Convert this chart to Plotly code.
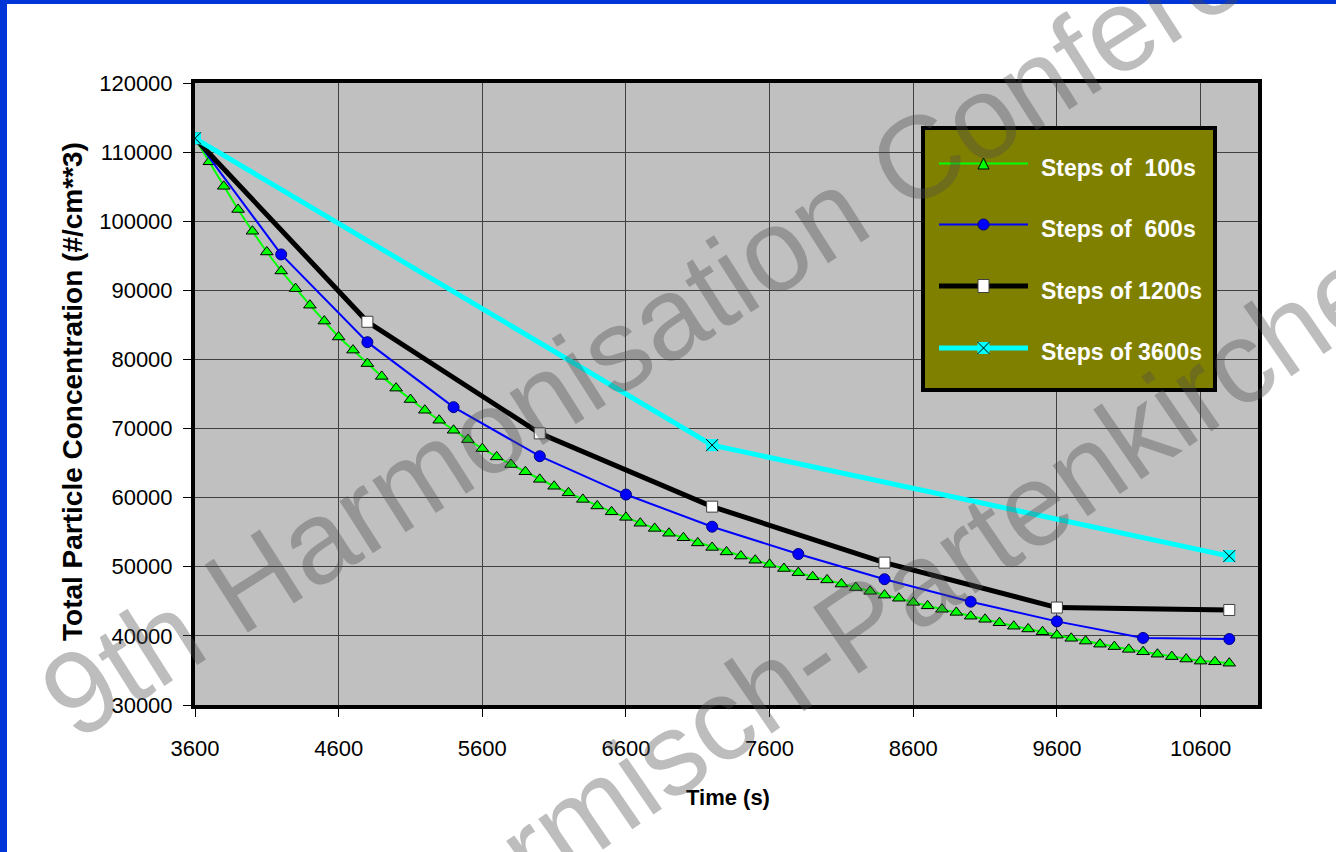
import plotly.graph_objects as go

# ---------------- data ----------------
t_100 = list(range(3600, 10801, 100))
c_100 = [112000, 108600, 105050, 101700, 98550, 95550, 92800, 90250, 87850, 85550,
         83250, 81350, 79400, 77550, 75850, 74200, 72650, 71200, 69750, 68400,
         67100, 65900, 64800, 63750, 62650, 61650, 60700, 59750, 58800, 57950,
         57150, 56300, 55550, 54850, 54200, 53450, 52800, 52150, 51550, 50950,
         50350, 49750, 49150, 48550, 48100, 47500, 47000, 46450, 45900, 45450,
         44850, 44350, 43850, 43400, 42850, 42400, 41900, 41400, 41000, 40600,
         40100, 39650, 39250, 38800, 38450, 38050, 37700, 37350, 37000, 36650,
         36350, 36250, 36050]

t_600 = [3600, 4200, 4800, 5400, 6000, 6600, 7200, 7800, 8400, 9000, 9600, 10200, 10800]
c_600 = [112000, 95200, 82500, 73100, 66000, 60450, 55800, 51850, 48200, 44950, 42100, 39700, 39550]

t_1200 = [3600, 4800, 6000, 7200, 8400, 9600, 10800]
c_1200 = [112000, 85450, 69300, 58700, 50600, 44100, 43750]

t_3600 = [3600, 7200, 10800]
c_3600 = [112000, 67600, 51550]

series_names = ["Steps of  100s", "Steps of  600s", "Steps of 1200s", "Steps of 3600s"]
x_ticks = [3600, 4600, 5600, 6600, 7600, 8600, 9600, 10600]
y_ticks = [30000, 40000, 50000, 60000, 70000, 80000, 90000, 100000, 110000, 120000]

# ---------------- layout geometry ----------------
W, H = 1336, 852
ML, MR, MT, MB = 195, 78, 83, 147
PW, PH = W - ML - MR, H - MT - MB
FONT = "Arial, 'Liberation Sans', sans-serif"


def px(x):
    return (x - ML) / PW


def py(y):
    return (H - MB - y) / PH


fig = go.Figure()

fig.add_trace(go.Scatter(
    x=t_100, y=c_100, mode="lines+markers", name=series_names[0],
    line=dict(color="#00FF00", width=2),
    marker=dict(symbol="triangle-up", size=11, color="#00FF00",
                line=dict(color="#000000", width=1)),
    showlegend=False))
fig.add_trace(go.Scatter(
    x=t_600, y=c_600, mode="lines+markers", name=series_names[1],
    line=dict(color="#0000FF", width=2),
    marker=dict(symbol="circle", size=11, color="#0000FF",
                line=dict(color="#000080", width=1)),
    showlegend=False))
fig.add_trace(go.Scatter(
    x=t_1200, y=c_1200, mode="lines+markers", name=series_names[2],
    line=dict(color="#000000", width=5),
    marker=dict(symbol="square", size=11, color="#FFFFFF",
                line=dict(color="#404040", width=1)),
    showlegend=False))
fig.add_trace(go.Scatter(
    x=t_3600, y=c_3600, mode="lines+markers", name=series_names[3],
    line=dict(color="#00FFFF", width=5),
    marker=dict(symbol="square", size=12, color="#00FFFF",
                line=dict(width=0)),
    showlegend=False))
fig.add_trace(go.Scatter(
    x=t_3600, y=c_3600, mode="markers", name=series_names[3],
    marker=dict(symbol="x-thin", size=12, color="#000000",
                line=dict(color="#000000", width=1)),
    showlegend=False, hoverinfo="skip"))

axis_common = dict(
    showline=True, linecolor="#000000", linewidth=4, mirror=True,
    showgrid=True, gridcolor="#404040", gridwidth=1, zeroline=False,
    ticks="outside", ticklen=8, tickwidth=1, tickcolor="#000000",
    tickfont=dict(family=FONT, size=22, color="#000000"),
)

fig.update_xaxes(range=[3600, 11000], tickvals=x_ticks,
                 ticktext=[str(v) for v in x_ticks], ticklabelstandoff=13,
                 **axis_common)
fig.update_yaxes(range=[30000, 120000], tickvals=y_ticks,
                 ticktext=[str(v) for v in y_ticks], ticklabelstandoff=6,
                 **axis_common)

shapes = []
annotations = []

# blue slide frame
shapes.append(dict(type="rect", xref="paper", yref="paper", layer="above",
                   x0=px(0), x1=px(7), y0=py(H), y1=py(0),
                   fillcolor="#0036D8", line=dict(width=0)))
shapes.append(dict(type="rect", xref="paper", yref="paper", layer="above",
                   x0=px(0), x1=px(W), y0=py(4), y1=py(0),
                   fillcolor="#0036D8", line=dict(width=0)))

# legend box
shapes.append(dict(type="rect", xref="paper", yref="paper", layer="above",
                   x0=px(923), x1=px(1215), y0=py(390), y1=py(128),
                   fillcolor="#808000", line=dict(color="#000000", width=4)))

leg_rows = [163.5, 224.5, 286, 348]
line_x0, line_x1, mark_x = 939, 1028, 983.5
leg_line = [("#00FF00", 2), ("#0000FF", 2), ("#000000", 5), ("#00FFFF", 5)]
for i, ((col, lw), yy) in enumerate(zip(leg_line, leg_rows)):
    shapes.append(dict(type="line", xref="paper", yref="paper", layer="above",
                       x0=px(line_x0), x1=px(line_x1), y0=py(yy), y1=py(yy),
                       line=dict(color=col, width=lw)))
    annotations.append(dict(xref="paper", yref="paper", x=px(1039), y=py(yy + 4.5),
                            xanchor="left", yanchor="middle", showarrow=False,
                            text="<b>" + series_names[i].replace("  ", "&nbsp; ") + "</b>",
                            font=dict(family=FONT, size=23, color="#FFFFFF")))

s = 5.5
# triangle
y0 = leg_rows[0]
shapes.append(dict(type="path", xref="paper", yref="paper", layer="above",
                   path=f"M {px(mark_x - s)} {py(y0 + s)} L {px(mark_x + s)} {py(y0 + s)} "
                        f"L {px(mark_x)} {py(y0 - s)} Z",
                   fillcolor="#00FF00", line=dict(color="#000000", width=1)))
# circle
y1 = leg_rows[1]
shapes.append(dict(type="circle", xref="paper", yref="paper", layer="above",
                   x0=px(mark_x - s), x1=px(mark_x + s), y0=py(y1 + s), y1=py(y1 - s),
                   fillcolor="#0000FF", line=dict(color="#000080", width=1)))
# white square
y2 = leg_rows[2]
shapes.append(dict(type="rect", xref="paper", yref="paper", layer="above",
                   x0=px(mark_x - s), x1=px(mark_x + s), y0=py(y2 + s + 1), y1=py(y2 - s - 1),
                   fillcolor="#FFFFFF", line=dict(color="#404040", width=1)))
# cyan square with x
y3 = leg_rows[3]
shapes.append(dict(type="rect", xref="paper", yref="paper", layer="above",
                   x0=px(mark_x - 6), x1=px(mark_x + 6), y0=py(y3 + 6), y1=py(y3 - 6),
                   fillcolor="#00FFFF", line=dict(width=0)))
shapes.append(dict(type="path", xref="paper", yref="paper", layer="above",
                   path=f"M {px(mark_x - 6)} {py(y3 - 6)} L {px(mark_x + 6)} {py(y3 + 6)} "
                        f"M {px(mark_x - 6)} {py(y3 + 6)} L {px(mark_x + 6)} {py(y3 - 6)}",
                   line=dict(color="#000000", width=1)))

# axis titles
annotations.append(dict(xref="paper", yref="paper", x=px(728), y=py(797),
                        xanchor="center", yanchor="middle", showarrow=False,
                        text="<b>Time (s)</b>",
                        font=dict(family=FONT, size=22, color="#000000")))
annotations.append(dict(xref="paper", yref="paper", x=px(72), y=py(392),
                        xanchor="center", yanchor="middle", showarrow=False,
                        textangle=-90,
                        text="<b>Total Particle Concentration (#/cm**3)</b>",
                        font=dict(family=FONT, size=28, color="#000000")))

# watermark
wm = dict(xref="paper", yref="paper", xanchor="center", yanchor="middle",
          showarrow=False,
          font=dict(family=FONT, size=117, color="rgba(77,77,77,0.37)"))
annotations.append(dict(wm, x=px(722), y=py(282), textangle=-32.5,
                        text="9th Harmonisation Conference"))
annotations.append(dict(wm, x=px(902), y=py(594), textangle=-34.5,
                        text="Garmisch-Partenkirchen"))

fig.update_layout(
    width=W, height=H, autosize=False,
    margin=dict(l=ML, r=MR, t=MT, b=MB),
    paper_bgcolor="#FFFFFF", plot_bgcolor="#C0C0C0",
    showlegend=False, shapes=shapes, annotations=annotations,
    font=dict(family=FONT, color="#000000"),
)

fig.write_html("out.html", config={"displayModeBar": False},
               post_script="document.body.style.margin='0';document.body.style.overflow='hidden';")
